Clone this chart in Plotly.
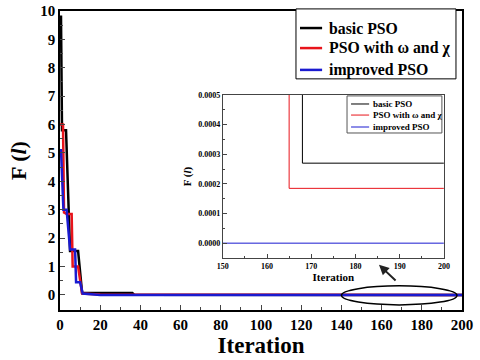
import plotly.graph_objects as go

# main plot data (iteration, F(l))
basic_x = [0, 0.5, 1, 3, 5, 9, 11, 36, 37, 168, 168, 200]
basic_y = [9.8, 9.8, 5.8, 5.8, 1.55, 1.55, 0.07, 0.07, 0.004, 0.004, 0.00027, 0.00027]

omega_x = [0, 1.5, 2, 3.3, 5.8, 6.3, 9, 10, 11, 20, 165, 165, 200]
omega_y = [6.0, 6.0, 2.9, 2.85, 2.85, 1.0, 1.0, 0.5, 0.05, 0.02, 0.002, 0.000185, 0.000185]

improved_x = [0, 0.5, 1.7, 3.3, 5, 7.5, 8, 10, 11.3, 20, 200]
improved_y = [5.1, 5.1, 3.0, 3.0, 1.6, 1.6, 0.45, 0.45, 0.05, 0.0, 0.0]

names = ["basic PSO", "PSO with \u03c9 and \u03c7", "improved PSO"]
colors = ["black", "#e8141b", "#1a1ad0"]

FONT = "Liberation Serif"

fig = go.Figure()
series = [(basic_x, basic_y), (omega_x, omega_y), (improved_x, improved_y)]
for (xs, ys), name, c in zip(series, names, colors):
    fig.add_trace(go.Scatter(x=xs, y=ys, mode="lines", name=name, showlegend=False,
                             line=dict(color=c, width=2.5)))

# inset (zoom on iterations 150-200)
for (xs, ys), name, c in zip(series, names, colors):
    fig.add_trace(go.Scatter(x=xs, y=ys, mode="lines", name=name, showlegend=False,
                             line=dict(color=c, width=1), xaxis="x2", yaxis="y2"))

bold = dict(family=FONT, color="black", weight="bold")


def legend_box(shapes, annotations, box, rows, line_x, text_x, size, lw, border):
    # hand-drawn legend, plotly's own legend rows/symbols are too big here
    shapes.append(dict(type="rect", xref="paper", yref="paper",
                       x0=box[0], x1=box[1], y0=box[2], y1=box[3],
                       line=dict(color=border, width=1), fillcolor="white", layer="above"))
    for yy, name, c in zip(rows, names, colors):
        shapes.append(dict(type="line", xref="paper", yref="paper", x0=line_x[0], x1=line_x[1],
                           y0=yy, y1=yy, line=dict(color=c, width=lw), layer="above"))
        annotations.append(dict(x=text_x, y=yy, xref="paper", yref="paper", text=name,
                                showarrow=False, xanchor="left", yanchor="middle",
                                font=dict(size=size, **bold)))


shapes = [dict(type="circle", xref="x", yref="y", x0=140, x1=197.5, y0=-0.35, y1=0.32,
               line=dict(color="black", width=1.5))]
annotations = [dict(x=158.7, y=1.06, ax=167.7, ay=0.46, xref="x", yref="y",
                    axref="x", ayref="y", text="", showarrow=True,
                    arrowhead=2, arrowsize=1, arrowwidth=2, arrowcolor="#222")]

legend_box(shapes, annotations, (0.587, 0.985, 0.773, 1.007), [0.943, 0.876, 0.803],
           (0.597, 0.652), 0.663, 15.8, 2.5, "black")
legend_box(shapes, annotations, (0.714, 0.950, 0.592, 0.716), [0.689, 0.652, 0.612],
           (0.724, 0.769), 0.774, 9, 1, "#555")

fig.update_layout(
    width=480, height=360,
    margin=dict(l=60, r=18, t=11, b=50),
    paper_bgcolor="white", plot_bgcolor="white",
    font=dict(family=FONT, color="black"),
    showlegend=False,
    xaxis=dict(range=[0, 200], dtick=20, ticks="inside", ticklen=5, automargin=False,
               minor=dict(dtick=10, ticks="inside", ticklen=3),
               showline=True, linecolor="black", linewidth=1.5, mirror=True,
               showgrid=False, zeroline=False,
               tickfont=dict(size=15, **bold),
               title=dict(text="Iteration", font=dict(size=23, **bold), standoff=2)),
    yaxis=dict(range=[-0.53, 10], dtick=1, ticks="inside", ticklen=5, automargin=False,
               minor=dict(dtick=0.5, ticks="inside", ticklen=3),
               showline=True, linecolor="black", linewidth=1.5, mirror=True,
               showgrid=False, zeroline=False,
               tickfont=dict(size=15, **bold),
               title=dict(text="F (<i>l</i>)", font=dict(size=22, **bold), standoff=8)),
    xaxis2=dict(domain=[0.405, 0.955], anchor="y2", range=[150, 200], dtick=10,
                automargin=False,
                ticks="inside", ticklen=4, minor=dict(dtick=5, ticks="inside", ticklen=2),
                showline=True, linecolor="#444", linewidth=1, mirror=True,
                showgrid=False, zeroline=False,
                tickfont=dict(size=8, **bold),
                title=dict(text="Iteration", font=dict(size=11, **bold), standoff=2)),
    yaxis2=dict(domain=[0.174, 0.719], anchor="x2", range=[-0.00005, 0.0005],
                dtick=0.0001, tickformat=".4f", automargin=False,
                ticks="inside", ticklen=4, minor=dict(dtick=0.00005, ticks="inside", ticklen=2),
                showline=True, linecolor="#444", linewidth=1, mirror=True,
                showgrid=False, zeroline=False,
                tickfont=dict(size=8, **bold),
                title=dict(text="F (<i>l</i>)", font=dict(size=11, **bold), standoff=4)),
    shapes=shapes,
    annotations=annotations,
)

fig.write_html("out.html", config={"displayModeBar": False},
               post_script="document.body.style.margin='0';")
